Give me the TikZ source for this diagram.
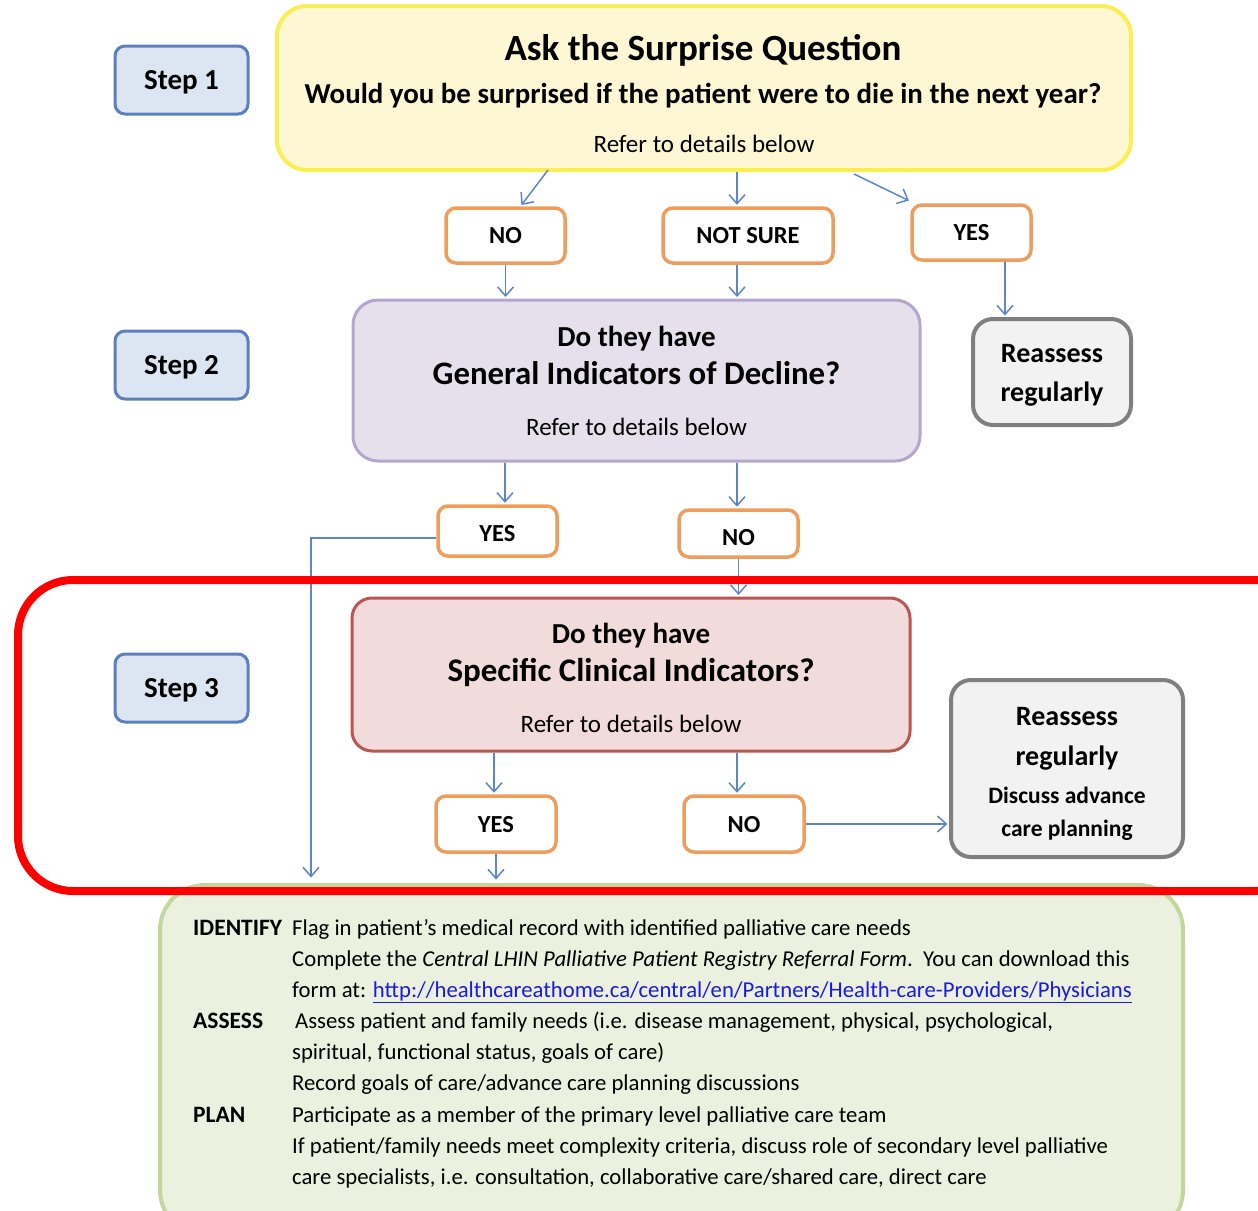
\documentclass[tikz,border=0pt]{standalone}
\usepackage{fontspec}
\setmainfont{Carlito}
\usetikzlibrary{arrows.meta,calc}
\definecolor{stepblue}{HTML}{5B80BE}
\definecolor{stepfill}{HTML}{DCE6F2}
\definecolor{ansorange}{HTML}{EE9D5C}
\definecolor{askfill}{HTML}{FDF8D3}
\definecolor{askline}{HTML}{F9EF52}
\definecolor{genfill}{HTML}{E5E0EC}
\definecolor{genline}{HTML}{B4A7CC}
\definecolor{specfill}{HTML}{F2DCDB}
\definecolor{specline}{HTML}{BA5550}
\definecolor{greyfill}{HTML}{F2F2F2}
\definecolor{greyline}{HTML}{7F7F7F}
\definecolor{grnfill}{HTML}{EBF1DE}
\definecolor{grnline}{HTML}{C3D69B}
\definecolor{connblue}{HTML}{5B87C8}
\definecolor{linkblue}{HTML}{1A1AE6}
\definecolor{hilite}{HTML}{FF0000}
\tikzset{
  stepbox/.style={draw=stepblue, fill=stepfill, line width=3pt, rounded corners=10pt,
    minimum width=133pt, minimum height=68pt, inner sep=0pt, text depth=0pt,
    font=\fontsize{29}{34}\selectfont\bfseries},
  ansbox/.style={draw=ansorange, fill=white, line width=3.5pt, rounded corners=10pt,
    minimum height=55pt, inner sep=0pt, text depth=0pt,
    font=\fontsize{24.5}{29}\selectfont\bfseries},
  greybox/.style={draw=greyline, fill=greyfill, line width=4pt, rounded corners=20pt, inner sep=0pt},
  txt/.style={inner sep=0pt, anchor=base},
  ltxt/.style={inner sep=0pt, anchor=base west, font=\fontsize{22.7}{27}\selectfont},
  lbl/.style={inner sep=0pt, anchor=base west, font=\fontsize{23.5}{28}\selectfont\bfseries},
  conn/.style={draw=connblue, line width=1.5pt, shorten >=1.5pt,
    -{Straight Barb[length=9pt,width=16pt,line width=1.5pt]}}
}
\begin{document}
\begin{tikzpicture}[x=1pt,y=-1pt]
\useasboundingbox (0,0) rectangle (1258,1210);
\clip (0,0) rectangle (1258,1210);

% step labels
\node[stepbox] (step1) at (181.5,80) {Step 1};
\node[stepbox] (step2) at (181.5,365) {Step 2};
\node[stepbox] (step3) at (181.5,688) {Step 3};

% surprise question
\node[draw=askline, fill=askfill, line width=4pt, rounded corners=30pt,
  minimum width=854pt, minimum height=164pt] (ask) at (704,88) {};
\node[txt, font=\fontsize{37}{42}\selectfont\bfseries] (askT) at (703,60) {Ask the Surprise Question};
\node[txt, font=\fontsize{28.9}{33}\selectfont\bfseries] (askQ) at (703,103) {Would you be surprised if the patient were to die in the next year?};
\node[txt, font=\fontsize{25}{29}\selectfont] (askR) at (704,152) {Refer to details below};

\node[ansbox, minimum width=119pt] (no1) at (505.5,235.5) {NO};
\node[ansbox, minimum width=170pt] (notsure) at (748,235.5) {NOT SURE};
\node[ansbox, minimum width=119pt] (yes1) at (971.5,232.5) {YES};

% general indicators
\node[draw=genline, fill=genfill, line width=3pt, rounded corners=25pt,
  minimum width=567pt, minimum height=161pt] (gen) at (636.5,380.5) {};
\node[txt, font=\fontsize{29}{34}\selectfont\bfseries] (genA) at (636.5,346) {Do they have};
\node[txt, font=\fontsize{32.8}{38}\selectfont\bfseries] (genB) at (636.5,384.5) {General Indicators of Decline?};
\node[txt, font=\fontsize{25}{29}\selectfont] (genR) at (636.5,435) {Refer to details below};

\node[greybox, minimum width=158pt, minimum height=106pt] (reass1) at (1052,372) {};
\node[txt, font=\fontsize{28}{33}\selectfont\bfseries] (reass1a) at (1052,362) {Reassess};
\node[txt, font=\fontsize{28}{33}\selectfont\bfseries] (reass1b) at (1052,401) {regularly};

\node[ansbox, minimum width=119pt, minimum height=50pt, text height=21pt] (yes2) at (497.5,531) {YES};
\node[ansbox, minimum width=119pt, minimum height=47pt, text height=23pt] (no2) at (738.5,533.5) {NO};

% specific indicators
\node[draw=specline, fill=specfill, line width=3pt, rounded corners=20pt,
  minimum width=558pt, minimum height=153pt] (spec) at (631,674.5) {};
\node[txt, font=\fontsize{29}{34}\selectfont\bfseries] (specA) at (631,643) {Do they have};
\node[txt, font=\fontsize{33}{38}\selectfont\bfseries] (specB) at (631,681.5) {Specific Clinical Indicators?};
\node[txt, font=\fontsize{25}{29}\selectfont] (specR) at (631,732) {Refer to details below};

\node[ansbox, minimum width=120pt, minimum height=56pt] (yes3) at (496,824) {YES};
\node[ansbox, minimum width=120pt, minimum height=56pt] (no3) at (744,824) {NO};

\node[greybox, minimum width=232pt, minimum height=177pt] (reass2) at (1067,768.5) {};
\node[txt, font=\fontsize{28}{33}\selectfont\bfseries] (reass2a) at (1067,725) {Reassess};
\node[txt, font=\fontsize{28}{33}\selectfont\bfseries] (reass2b) at (1067,765) {regularly};
\node[txt, font=\fontsize{23.5}{28}\selectfont\bfseries] (reass2c) at (1067,803) {Discuss advance};
\node[txt, font=\fontsize{23.5}{28}\selectfont\bfseries] (reass2d) at (1067,836) {care planning};

% action box
\node[draw=grnline, fill=grnfill, line width=4pt, rounded corners=45pt,
  minimum width=1023pt, minimum height=350pt] (act) at (671.5,1060) {};
\node[lbl] (lid) at (193,935) {IDENTIFY};
\node[ltxt] (t1) at (292,935) {Flag in patient’s medical record with identified palliative care needs};
\node[ltxt] (t2) at (292,966) {Complete the \textit{Central LHIN Palliative Patient Registry Referral Form}.\ \ You can download this};
\node[ltxt] (t3) at (292,997) {form at: {\color{linkblue}\underline{http://healthcareathome.ca/central/en/Partners/Health-care-Providers/Physicians}}};
\node[lbl] (las) at (193,1028.5) {ASSESS};
\node[ltxt] (t4) at (295,1028.5) {Assess patient and family needs (i.e. disease management, physical, psychological,};
\node[ltxt] (t5) at (292,1059.5) {spiritual, functional status, goals of care)};
\node[ltxt] (t6) at (292,1090.5) {Record goals of care/advance care planning discussions};
\node[lbl] (lpl) at (193,1122) {PLAN};
\node[ltxt] (t7) at (292,1122) {Participate as a member of the primary level palliative care team};
\node[ltxt] (t8) at (292,1153) {If patient/family needs meet complexity criteria, discuss role of secondary level palliative};
\node[ltxt] (t9) at (292,1184) {care specialists, i.e. consultation, collaborative care/shared care, direct care};

% connectors
\draw[conn] ($(ask.south)+(-156,-2)$) -- ($(no1.north)+(15,0)$);
\coordinate (a1) at ($(ask.south)+(33,0)$);
\draw[conn] (a1) -- (a1 |- notsure.north);
\draw[conn] ($(ask.south)+(150,2)$) -- ($(yes1.north west)+(0,-2)$);
\draw[conn] (no1.south) -- (no1.south |- gen.north);
\coordinate (a2) at ($(notsure.south)+(-11,0)$);
\draw[conn] (a2) -- (a2 |- gen.north);
\coordinate (a3) at ($(yes1.south)+(33.5,0)$);
\draw[conn] (a3) -- (a3 |- reass1.north);
\coordinate (a4) at ($(gen.south)+(-131.5,0)$);
\draw[conn] (a4) -- (a4 |- yes2.north);
\coordinate (a5) at ($(gen.south)+(100.5,0)$);
\draw[conn] (a5) -- (a5 |- no2.north);
\draw[conn] ($(yes2.west)+(0,7)$) -| ($(act.north west)+(153,-4)$);
\draw[conn] (no2.south) -- (no2.south |- spec.north);
\coordinate (a6) at ($(spec.south)+(-137,0)$);
\draw[conn] (a6) -- (a6 |- yes3.north);
\coordinate (a7) at ($(spec.south)+(106,0)$);
\draw[conn] (a7) -- (a7 |- no3.north);
\draw[conn] (no3.east) -- (no3.east -| reass2.west);
\draw[conn] (yes3.south) -- ($(yes3.south |- act.north)+(0,-2)$);

% highlight frame for step 3
\draw[hilite, line width=8pt, rounded corners=55pt] (18,580) rectangle (1310,891);
\end{tikzpicture}
\end{document}
